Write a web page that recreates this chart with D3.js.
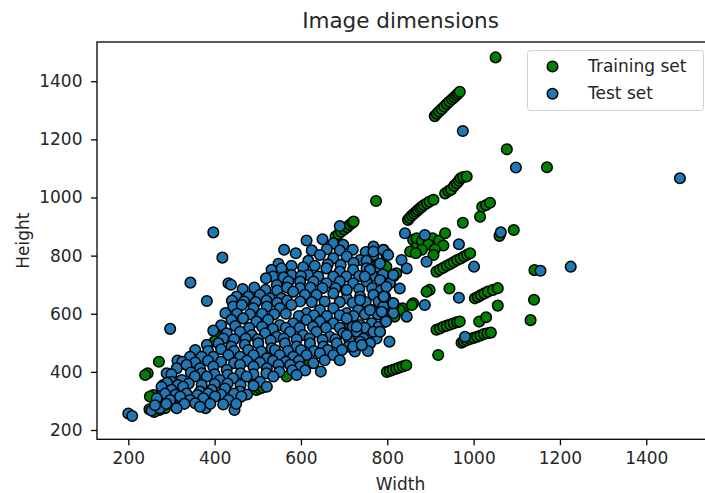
<!DOCTYPE html>
<html>
<head>
<meta charset="utf-8">
<script src="https://cdn.jsdelivr.net/npm/d3@7"></script>
<style>
  body { margin: 0; background: #fff; }
  svg { display: block; font-family: "DejaVu Sans", sans-serif; }
</style>
</head>
<body>
<svg id="chart" width="705" height="493"></svg>
<script>
var seriesNames = ['Training set', 'Test set'];
var xTicks = [200, 400, 600, 800, 1000, 1200, 1400];
var yTicks = [200, 400, 600, 800, 1000, 1200, 1400];

// [width, height] of each training image
var trainPoints = [
  [1051,1482],
  [910,1280],[915,1288],[920,1296],[926,1304],[932,1313],[938,1322],[944,1330],[950,1338],[955,1345],[960,1352],[964,1358],[968,1364],
  [1077,1166],[1170,1104],[774,988],
  [848,923],[852,930],[857,938],[862,945],[867,951],[871,957],[876,963],[880,968],[885,974],[892,980],[898,986],[907,992],
  [934,1014],[942,1022],[948,1027],[955,1040],[961,1049],[966,1058],[970,1066],[976,1070],[984,1072],
  [1015,934],[1020,968],[1029,974],[1038,982],
  [975,913],[1093,888],[1060,868],
  [680,866],[687,874],[693,882],[700,890],[707,898],[713,906],[719,912],[722,917],
  [860,854],[868,831],[853,814],[868,860],[880,850],[905,860],[920,852],[934,877],[930,835],[895,838],[910,822],[880,820],[866,808],[907,802],
  [775,773],[798,762],[821,739],[772,762],
  [914,745],[922,752],[930,758],[938,765],[946,771],[954,778],[962,785],[970,790],[978,797],[985,803],[992,808],
  [898,682],[944,687],[891,676],
  [1003,653],[1010,658],[1017,664],[1025,670],[1033,676],[1045,682],[1056,688],[1056,628],
  [1141,750],[1140,648],[1132,578],
  [860,636],[837,613],[822,613],[798,624],[817,613],[835,619],[857,630],[808,636],[829,613],[814,624],[783,624],[806,613],[817,590],
  [714,550],[709,550],
  [914,545],[922,549],[930,555],[938,559],[946,563],[954,567],[962,571],[968,573],
  [1013,573],[1029,588],
  [972,500],[977,505],[984,509],[992,513],[1000,517],[1008,521],[1016,525],[1024,530],[1032,533],[1040,535],
  [918,458],
  [799,400],[806,403],[813,407],[821,411],[828,415],[836,419],[844,423],
  [271,435],[245,395],[239,389],[281,355],[258,320],[250,315],[304,303],[285,275],[249,271],[272,269],[260,262],
  [405,510],[408,521],[400,505],[393,441],[389,441],[490,366],[497,338],[505,343],[512,346],[567,384],[620,430]
];

// [width, height] of each test image
var testPoints = [
  [397,880],[418,793],[344,707],[382,644],[297,548],[432,705],[438,700],[314,439],
  [200,257],[209,248],[254,267],[273,275],[379,275],[446,269],[646,401],[805,504],
  [613,852],[561,820],[588,808],[690,902],
  [650,856],[675,842],[698,837],[768,831],[791,820],
  [625,818],[660,822],[690,818],[720,820],[750,812],
  [617,782],[644,802],[675,791],[706,797],[737,785],[768,802],[798,802],
  [548,772],[578,765],[605,760],[632,765],[662,770],[692,768],[722,775],[752,782],
  [532,751],[555,756],[578,733],[617,733],[659,756],[690,745],[721,751],[752,756],[779,762],[814,728],
  [535,728],[560,725],[600,730],[640,728],[675,728],[705,728],[735,730],[765,730],[790,735],
  [519,722],[544,699],[571,711],[598,711],[629,711],[659,705],[690,711],[721,705],[752,711],[783,716],[806,705],
  [465,685],[492,690],[518,682],[545,680],[568,690],[598,688],[622,690],[650,688],[680,688],[705,680],[735,685],[765,688],[785,680],
  [451,659],[478,659],[505,665],[528,653],[555,653],[582,676],[609,665],[636,665],[675,670],[706,653],[737,659],[768,665],[795,659],[814,636],
  [440,645],[468,642],[495,640],[520,645],[545,638],[568,645],[598,642],[625,640],[655,642],[690,640],[720,638],[750,640],[780,642],[800,640],
  [443,625],[463,630],[490,619],[521,625],[551,619],[578,630],[613,602],[644,613],[675,619],[706,602],[733,613],[764,613],[791,625],[814,602],
  [425,602],[452,600],[482,598],[510,600],[538,598],[565,600],[595,592],[630,595],[660,592],[690,595],[722,592],[748,598],[778,598],
  [439,579],[466,584],[497,573],[524,579],[551,561],[582,567],[613,579],[644,573],[675,567],[706,584],[737,561],[764,567],[795,573],
  [415,560],[448,558],[480,552],[510,555],[535,548],[565,552],[597,552],[628,555],[658,552],[690,552],[720,555],[748,552],[780,555],
  [397,542],[428,533],[459,538],[486,527],[517,533],[544,521],[575,538],[605,527],[636,538],[667,521],[698,533],[729,538],[760,521],[783,538],
  [420,515],[445,512],[472,515],[500,512],[530,508],[560,515],[590,512],[620,515],[650,510],[680,512],[712,510],[745,515],[775,515],
  [382,493],[409,498],[439,487],[470,493],[501,498],[532,481],[563,498],[590,487],[621,498],[652,487],[683,498],[710,487],[737,504],[760,498],
  [355,475],[385,472],[415,478],[445,472],[478,475],[508,470],[540,475],[570,472],[600,475],[630,472],[662,475],[695,475],[725,470],[755,472],
  [343,452],[370,452],[397,452],[432,458],[459,452],[490,458],[521,447],[551,458],[582,452],[613,458],[644,464],[675,458],
  [325,435],[355,432],[385,438],[415,435],[445,430],[475,438],[505,432],[535,438],[565,435],[595,438],[655,440],[690,440],
  [289,395],[312,412],[335,424],[366,412],[397,418],[428,407],[459,424],[490,418],[521,412],[548,424],[575,424],[598,418],[629,430],
  [300,392],[345,398],[370,395],[400,392],[430,390],[460,395],[490,392],[520,395],[550,400],[580,405],[610,405],
  [300,366],[324,372],[354,384],[382,384],[412,372],[443,378],[474,384],[505,366],[536,384],[590,389],
  [290,362],[315,355],[340,360],[370,355],[400,358],[430,360],[460,355],[490,352],
  [277,349],[300,338],[327,349],[366,332],[393,338],[424,343],[459,332],[521,349],
  [285,325],[310,322],[335,325],[360,320],[385,325],[415,322],[445,325],[475,322],
  [266,309],[297,303],[320,315],[343,303],[374,309],[401,315],[432,303],[462,315],
  [262,285],[288,290],[330,290],[355,292],[390,290],[420,288],[450,290],
  [312,275],[366,280],
  [768,814],[798,808],[783,773],[760,751],[748,728],[833,785],[845,756],[841,877],[887,871],[891,779],
  [791,659],[845,590],[798,578],[887,630],[721,487],[741,492],[729,555],[706,527],[768,538],[760,613],[737,647],[706,682],
  [791,819],[802,802],[814,733],[798,693],[829,687],[792,659],[814,636],[787,607],[797,573],[783,538],
  [966,839],[1001,762],[966,655],[980,521],[1063,880],[1155,748],[1225,762],
  [975,1229],[1098,1103],[1478,1066]
];

var colors = ['green', '#1f77b4'];

var svg = d3.select('#chart');

var x = d3.scaleLinear().domain([127.5, 1550]).range([97, 711]);
var y = d3.scaleLinear().domain([168, 1535]).range([439.3, 42]);

// axes
var xAxis = svg.append('g')
  .attr('transform', 'translate(0,439.3)')
  .call(d3.axisBottom(x).tickValues(xTicks).tickFormat(d3.format('d')).tickSize(6).tickPadding(7).tickSizeOuter(0));
var yAxis = svg.append('g')
  .attr('transform', 'translate(97,0)')
  .call(d3.axisLeft(y).tickValues(yTicks).tickFormat(d3.format('d')).tickSize(6).tickPadding(8.5).tickSizeOuter(0));

[xAxis, yAxis].forEach(function(g){
  g.select('.domain').remove();
  g.selectAll('line').attr('stroke', '#000').attr('stroke-width', 1.3);
  g.selectAll('text').attr('fill', '#262626').style('font-size', '17px').style('font-family', '"DejaVu Sans", sans-serif');
});

// spines
svg.append('rect')
  .attr('x', 97).attr('y', 42)
  .attr('width', 614).attr('height', 397.3)
  .attr('fill', 'none')
  .attr('stroke', '#000')
  .attr('stroke-width', 1.3);

// points, training first then test on top
var sets = [trainPoints, testPoints];
sets.forEach(function(pts, i){
  svg.append('g').selectAll('circle')
    .data(pts)
    .enter().append('circle')
    .attr('cx', function(d){ return x(d[0]); })
    .attr('cy', function(d){ return y(d[1]); })
    .attr('r', 5.3)
    .attr('fill', colors[i])
    .attr('stroke', '#000')
    .attr('stroke-width', 1.5);
});

// title and labels
svg.append('text')
  .attr('x', 400.5).attr('y', 28)
  .attr('text-anchor', 'middle')
  .attr('fill', '#262626')
  .style('font-size', '21.5px')
  .text('Image dimensions');

svg.append('text')
  .attr('x', 400.5).attr('y', 490)
  .attr('text-anchor', 'middle')
  .attr('fill', '#262626')
  .style('font-size', '17px')
  .text('Width');

svg.append('text')
  .attr('transform', 'translate(29,240.6) rotate(-90)')
  .attr('text-anchor', 'middle')
  .attr('fill', '#262626')
  .style('font-size', '17px')
  .text('Height');

// legend
var legend = svg.append('g');
legend.append('rect')
  .attr('x', 527.5).attr('y', 50.5)
  .attr('width', 176).attr('height', 60)
  .attr('rx', 3)
  .attr('fill', '#fff').attr('fill-opacity', 0.8)
  .attr('stroke', '#d0d0d0');

seriesNames.forEach(function(name, i){
  legend.append('circle')
    .attr('cx', 552.5).attr('cy', 66.5 + i * 27.3)
    .attr('r', 5.3)
    .attr('fill', colors[i])
    .attr('stroke', '#000')
    .attr('stroke-width', 1.5);
  legend.append('text')
    .attr('x', 588).attr('y', 72.3 + i * 27)
    .attr('fill', '#262626')
    .style('font-size', '17px')
    .text(name);
});
</script>
</body>
</html>
